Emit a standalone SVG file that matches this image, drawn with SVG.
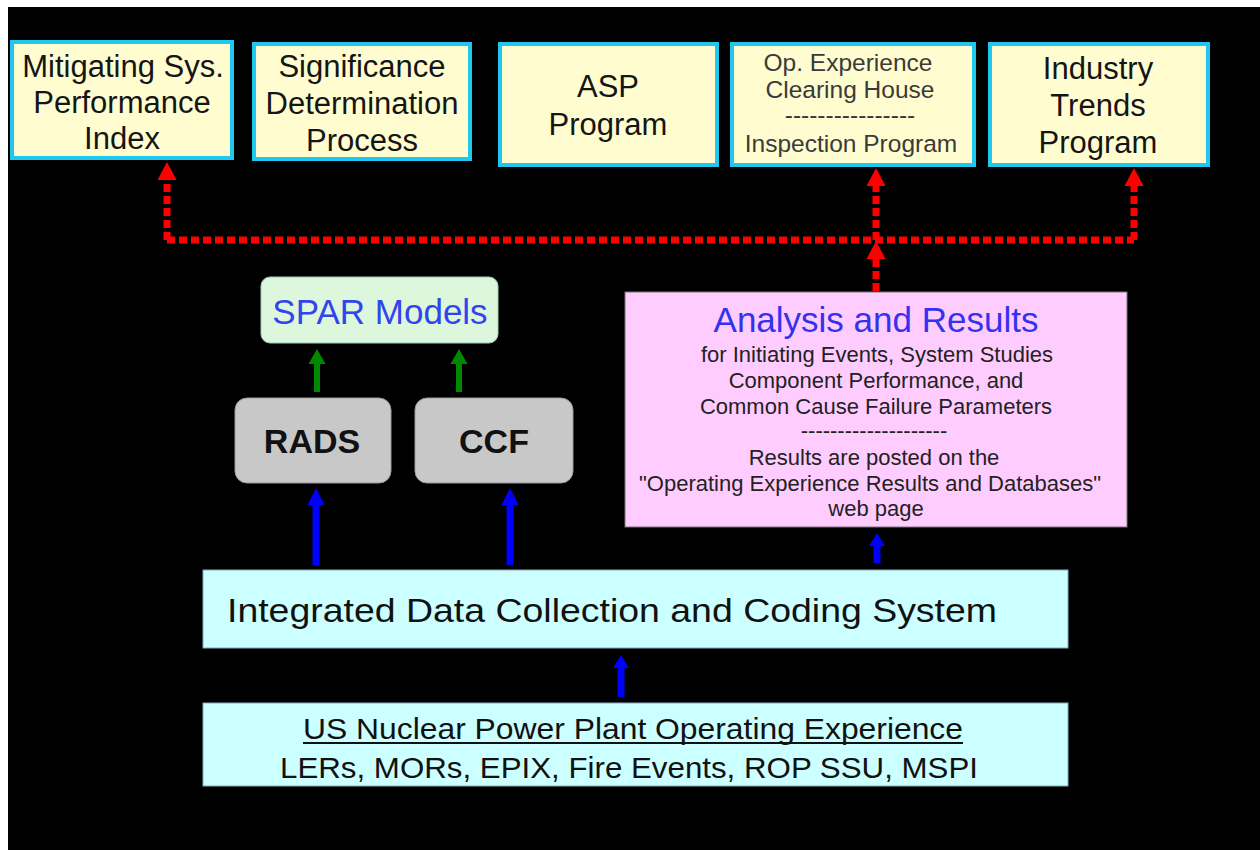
<svg xmlns="http://www.w3.org/2000/svg" width="1260" height="850" viewBox="0 0 1260 850">
  <defs>
    <style>
      .prog { fill: #fffdd0; stroke: #1ec8ef; stroke-width: 4; }
      .prog-t { font-family: "Liberation Sans", Arial, sans-serif; font-size: 31px; fill: #151515; text-anchor: middle; }
      .small-t { font-family: "Liberation Sans", Arial, sans-serif; font-size: 24.5px; fill: #3a3a3a; text-anchor: middle; }
      .tool { fill: #c8c8c8; stroke: #9a9a9a; stroke-width: 1; }
      .tool-t { font-family: "Liberation Sans", Arial, sans-serif; font-size: 34px; font-weight: bold; fill: #111; text-anchor: middle; }
      .data { fill: #ccffff; stroke: #8ab; stroke-width: 1; }
      .data-t { font-family: "Liberation Sans", Arial, sans-serif; fill: #111; text-anchor: middle; }
      .res-t { font-family: "Liberation Sans", Arial, sans-serif; font-size: 22px; fill: #222; text-anchor: middle; }
      .red { stroke: #ff0000; stroke-width: 7; fill: none; stroke-dasharray: 8 4; }
      .blue { stroke: #0000ff; stroke-width: 7; fill: none; }
      .green { stroke: #008800; stroke-width: 6; fill: none; }
    </style>
    <!-- upward arrowheads; each marker's reference point sits at the head's base -->
    <marker id="ah-red" markerUnits="userSpaceOnUse" markerWidth="22" markerHeight="22" viewBox="0 0 22 22" refX="11" refY="18" orient="0">
      <path d="M11 0 L20.5 18 L1.5 18 Z" fill="#ff0000"/>
    </marker>
    <marker id="ah-blue" markerUnits="userSpaceOnUse" markerWidth="22" markerHeight="22" viewBox="0 0 22 22" refX="11" refY="17" orient="0">
      <path d="M11 0 L19.5 17 L2.5 17 Z" fill="#0000ff"/>
    </marker>
    <marker id="ah-blue-s" markerUnits="userSpaceOnUse" markerWidth="20" markerHeight="20" viewBox="0 0 20 20" refX="9" refY="13" orient="0">
      <path d="M9 0 L17 13 L1 13 Z" fill="#0000ff"/>
    </marker>
    <marker id="ah-green" markerUnits="userSpaceOnUse" markerWidth="20" markerHeight="20" viewBox="0 0 20 20" refX="10" refY="15" orient="0">
      <path d="M10 0 L18.5 15 L1.5 15 Z" fill="#008800"/>
    </marker>
  </defs>

  <!-- page and dark panel -->
  <rect x="0" y="0" width="1260" height="850" fill="#ffffff"/>
  <rect x="8" y="7" width="1252" height="843" fill="#000000"/>

  <!-- programs that consume the results -->
  <g id="node-mspi">
    <rect class="prog" x="12" y="42" width="220" height="116"/>
    <text class="prog-t" x="123" y="77" font-size="32">Mitigating Sys.</text>
    <text class="prog-t" x="122" y="113" font-size="32">Performance</text>
    <text class="prog-t" x="122" y="149" font-size="32">Index</text>
  </g>
  <g id="node-sdp">
    <rect class="prog" x="254" y="44" width="216" height="115"/>
    <text class="prog-t" x="362" y="77" font-size="32">Significance</text>
    <text class="prog-t" x="362" y="114" font-size="32">Determination</text>
    <text class="prog-t" x="362" y="151" font-size="32">Process</text>
  </g>
  <g id="node-asp">
    <rect class="prog" x="500" y="44" width="217" height="121"/>
    <text class="prog-t" x="608" y="97">ASP</text>
    <text class="prog-t" x="608" y="135">Program</text>
  </g>
  <g id="node-opexp">
    <rect class="prog" x="732" y="44" width="242" height="121"/>
    <text class="small-t" x="848" y="71">Op. Experience</text>
    <text class="small-t" x="850" y="98">Clearing House</text>
    <text class="small-t" x="850" y="123">----------------</text>
    <text class="small-t" x="851" y="152">Inspection Program</text>
  </g>
  <g id="node-trends">
    <rect class="prog" x="990" y="44" width="218" height="121"/>
    <text class="prog-t" x="1098" y="79">Industry</text>
    <text class="prog-t" x="1098" y="116">Trends</text>
    <text class="prog-t" x="1098" y="153">Program</text>
  </g>

  <!-- models and databases -->
  <g id="node-spar">
    <rect x="261" y="277" width="237" height="66" rx="9" fill="#ddf7dc" stroke="#9cb" stroke-width="1"/>
    <text x="380" y="324" font-family="'Liberation Sans', Arial, sans-serif" font-size="35" fill="#3344ee" text-anchor="middle">SPAR Models</text>
  </g>
  <g id="node-rads">
    <rect class="tool" x="235" y="398" width="156" height="85" rx="12"/>
    <text class="tool-t" x="312" y="453">RADS</text>
  </g>
  <g id="node-ccf">
    <rect class="tool" x="415" y="398" width="158" height="85" rx="12"/>
    <text class="tool-t" x="494" y="453">CCF</text>
  </g>

  <g id="node-results">
    <rect x="625" y="292" width="502" height="235" fill="#ffccff" stroke="#777" stroke-width="1"/>
    <text x="876" y="332" font-family="'Liberation Sans', Arial, sans-serif" font-size="35" fill="#3333ee" text-anchor="middle">Analysis and Results</text>
    <text class="res-t" x="877" y="362">for Initiating Events, System Studies</text>
    <text class="res-t" x="876" y="388">Component Performance, and</text>
    <text class="res-t" x="876" y="414">Common Cause Failure Parameters</text>
    <text class="res-t" x="874" y="438">--------------------</text>
    <text class="res-t" x="874" y="465">Results are posted on the</text>
    <text class="res-t" x="870" y="491">"Operating  Experience Results and Databases"</text>
    <text class="res-t" x="876" y="516">web page</text>
  </g>

  <g id="node-idcc">
    <rect class="data" x="203" y="570" width="865" height="78"/>
    <text class="data-t" x="612" y="622" font-size="33" textLength="770" lengthAdjust="spacingAndGlyphs">Integrated Data Collection and Coding System</text>
  </g>
  <g id="node-opexp-source">
    <rect class="data" x="203" y="703" width="865" height="83"/>
    <text class="data-t" x="633" y="739" font-size="29" textLength="660" lengthAdjust="spacingAndGlyphs">US Nuclear Power Plant Operating Experience</text>
    <line x1="303" y1="743" x2="963" y2="743" stroke="#111" stroke-width="2"/>
    <text class="data-t" x="629" y="778" font-size="29" textLength="698" lengthAdjust="spacingAndGlyphs">LERs, MORs, EPIX, Fire Events, ROP SSU, MSPI</text>
  </g>

  <!-- connectors -->
  <g id="connectors">
    <!-- results distribution bus -->
    <path class="red" d="M167 240 H1134"/>
    <path class="red" d="M167 240 V180" marker-end="url(#ah-red)"/>
    <path class="red" d="M876 240 V186" marker-end="url(#ah-red)"/>
    <path class="red" d="M1134 240 V186" marker-end="url(#ah-red)"/>
    <path class="red" d="M876 291 V259" marker-end="url(#ah-red)"/>

    <!-- databases feed SPAR -->
    <path class="green" d="M317 392 V364" marker-end="url(#ah-green)"/>
    <path class="green" d="M459 392 V364" marker-end="url(#ah-green)"/>

    <!-- data system feeds databases and analysis -->
    <path class="blue" d="M316 565 V505" marker-end="url(#ah-blue)"/>
    <path class="blue" d="M510 565 V505" marker-end="url(#ah-blue)"/>
    <path class="blue" d="M877 563 V546" marker-end="url(#ah-blue-s)"/>
    <path class="blue" d="M621 697 V668" marker-end="url(#ah-blue-s)"/>
  </g>
</svg>
